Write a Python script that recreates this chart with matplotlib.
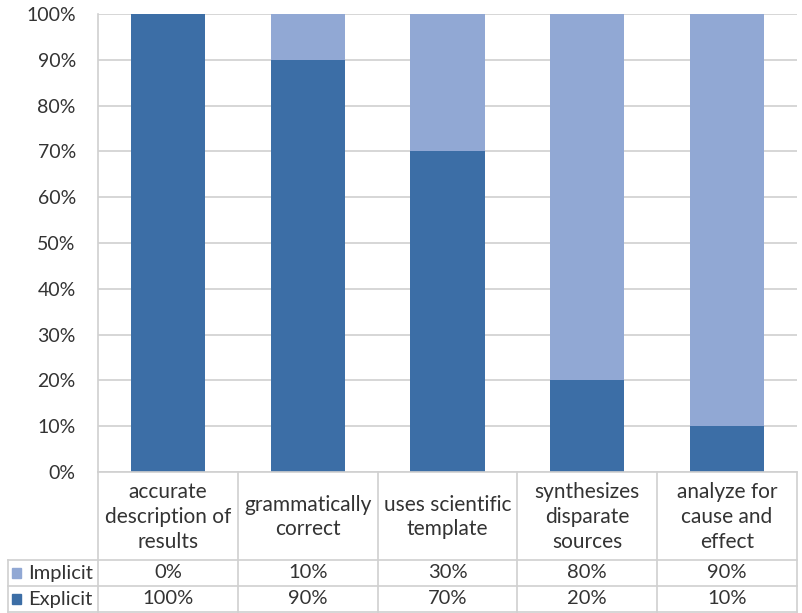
import matplotlib
matplotlib.use("Agg")
import matplotlib.pyplot as plt
from matplotlib.transforms import blended_transform_factory
from matplotlib.patches import Rectangle
import numpy as np

plt.rcParams['font.family'] = ['Lato', 'DejaVu Sans']

categories = ["accurate\ndescription of\nresults", "grammatically\ncorrect",
              "uses scientific\ntemplate", "synthesizes\ndisparate\nsources",
              "analyze for\ncause and\neffect"]
explicit = [100, 90, 70, 20, 10]
implicit = [0, 10, 30, 80, 90]
series_names = ["Implicit", "Explicit"]
yticks = [0, 10, 20, 30, 40, 50, 60, 70, 80, 90, 100]

c_explicit = "#3c6ea6"
c_implicit = "#91a8d4"
grid_c = "#d0d0d0"
text_c = "#333333"

W, H = 802, 613
fig = plt.figure(figsize=(W / 100, H / 100), dpi=100)

def fx(px):
    return px / W

def fy(py):
    return 1 - py / H

left, right, top, bottom = 98, 797, 14, 472
ax = fig.add_axes([fx(left), fy(bottom), fx(right) - fx(left), fy(top) - fy(bottom)])

x = np.arange(len(categories))
ax.bar(x, explicit, width=0.53, color=c_explicit, zorder=2)
ax.bar(x, implicit, width=0.53, bottom=explicit, color=c_implicit, zorder=2)

ax.set_xlim(-0.5, len(categories) - 0.5)
ax.set_ylim(0, 100)
ax.set_yticks(yticks)
ax.set_yticklabels([f"{v}%" for v in yticks], fontsize=14, color=text_c)
ax.tick_params(axis="y", length=0, pad=16)
ax.set_xticks([])
ax.yaxis.grid(True, color=grid_c, linewidth=1.2, zorder=0)
for s in ["top", "right", "bottom"]:
    ax.spines[s].set_visible(False)
ax.spines["left"].set_color(grid_c)
ax.spines["left"].set_linewidth(1.2)

# data table beneath the plot
tr = blended_transform_factory(ax.transData, fig.transFigure)
tr_fig = fig.transFigure
lw = 1.2
row_hdr_bot = 560
row1_bot = 586
row2_bot = 612

# horizontal table lines
fig.add_artist(plt.Line2D([fx(left), fx(right)], [fy(bottom), fy(bottom)],
                          color=grid_c, lw=lw, transform=tr_fig))
for yy in [row_hdr_bot, row1_bot, row2_bot]:
    fig.add_artist(plt.Line2D([fx(8), fx(right)], [fy(yy), fy(yy)],
                              color=grid_c, lw=lw, transform=tr_fig))
# vertical table lines
for i in range(len(categories) + 1):
    xb = i - 0.5
    fig.add_artist(plt.Line2D([xb, xb], [fy(bottom), fy(row2_bot)],
                              color=grid_c, lw=lw, transform=tr))
fig.add_artist(plt.Line2D([fx(8), fx(8)], [fy(row_hdr_bot), fy(row2_bot)],
                          color=grid_c, lw=lw, transform=tr_fig))

# category header cells
for i, cat in enumerate(categories):
    ax.text(i, fy((bottom + row_hdr_bot) / 2 + 1), cat, transform=tr,
            ha="center", va="center", fontsize=15, color=text_c,
            linespacing=1.3, clip_on=False)

# value rows with legend keys
rows = [(implicit, c_implicit, row_hdr_bot, row1_bot),
        (explicit, c_explicit, row1_bot, row2_bot)]
for (vals, col, y0, y1), name in zip(rows, series_names):
    yc = fy((y0 + y1) / 2)
    fig.add_artist(Rectangle((fx(12), yc - 5 / H), 9 / W, 10 / H,
                             transform=tr_fig, color=col))
    fig.text(fx(28), yc, name, ha="left", va="center", fontsize=14.5,
             color=text_c)
    for i, v in enumerate(vals):
        ax.text(i, yc, f"{v}%", transform=tr, ha="center", va="center",
                fontsize=14.5, color=text_c, clip_on=False)

fig.savefig("out.png", dpi=100)
